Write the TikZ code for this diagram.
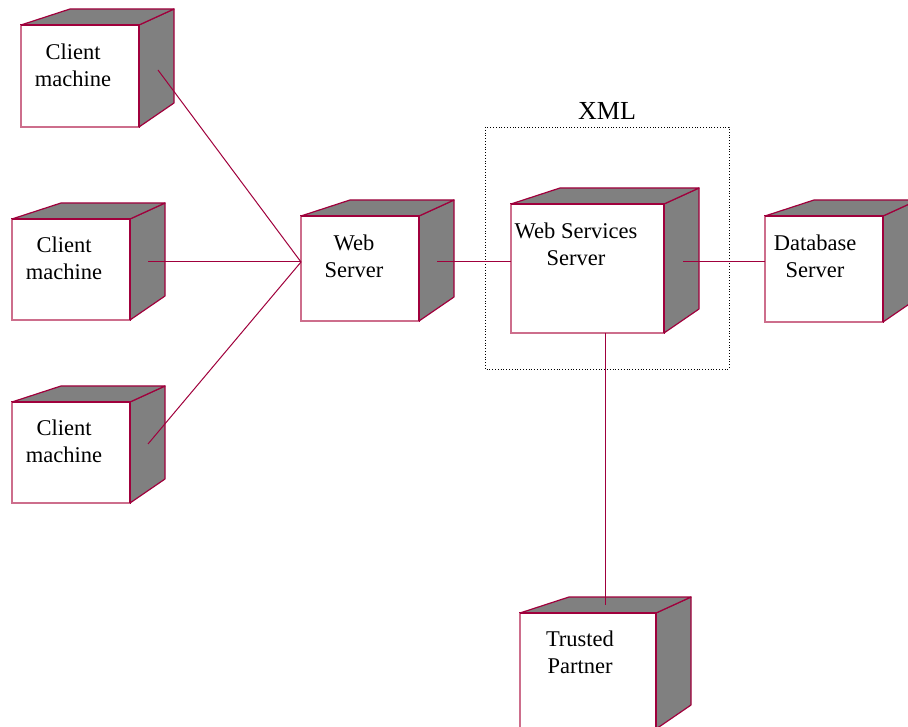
\documentclass[tikz,border=0pt]{standalone}
\usepackage{fontspec}
\setmainfont{Liberation Serif}
\definecolor{crim}{RGB}{160,0,60}
\definecolor{pinkedge}{RGB}{205,110,140}
\definecolor{boxgray}{RGB}{128,128,128}
\tikzset{
  side/.style={fill=boxgray, draw=crim, line width=1.2pt, line join=round},
  face/.style={draw=crim, fill=white, line width=1.2pt, inner sep=0pt, outer sep=0pt},
  litedge/.style={draw=pinkedge, line width=1.4pt},
  lbl/.style={align=center, font=\fontsize{22.5}{27}\selectfont, inner sep=0pt},
  conn/.style={draw=crim, line width=1pt},
}
\newcommand\cubebox[5]{%
  \path[side] (#4,#3) -- ({#4+35},{#3-16}) -- ({#4+35},{#5-24}) -- (#4,#5) -- cycle;
  \path[side] (#2,#3) -- ({#2+49},{#3-16}) -- ({#4+35},{#3-16}) -- (#4,#3) -- cycle;
  \node[face, minimum width={(#4-#2)*1pt}, minimum height={(#5-#3)*1pt}] (#1) at ({(#2+#4)/2},{(#3+#5)/2}) {};
  \draw[litedge] (#1.north west) -- (#1.south west) -- (#1.south east);
  \draw[crim, line width=1.2pt] (#1.north west) -- (#1.north east) -- (#1.south east);
}
\begin{document}
\begin{tikzpicture}[x=1pt, y=-1pt]
\useasboundingbox (0,0) rectangle (908,727);
\clip (0,0) rectangle (908,727);
\fill[white] (0,0) rectangle (908,727);

% XML frame
\draw[black, dotted, line width=0.8pt] (485,127) rectangle (729,369);
\node[font=\fontsize{26}{30}\selectfont, inner sep=0pt] (xml) at (607,111) {XML};

\cubebox{cm1}{21}{25}{139}{127}
\cubebox{cm2}{12}{219}{130}{320}
\cubebox{cm3}{12}{402}{130}{503}
\cubebox{web}{301}{216}{419}{321}
\cubebox{wss}{511}{204}{664}{333}
\cubebox{db}{765}{216}{883}{322}
\cubebox{tp}{520}{613}{656}{729}

\node[lbl] (cm1t) at (73,65) {Client\\machine};
\node[lbl] (cm2t) at (64,258) {Client\\machine};
\node[lbl] (cm3t) at (64,441) {Client\\machine};
\node[lbl] (webt) at (354,256) {Web\\Server};
\node[lbl] (wsst) at (576,244) {Web Services\\Server};
\node[lbl] (dbt) at (815,256) {Database\\Server};
\node[lbl] (tpt) at (580,652) {Trusted\\Partner};

% ports
\coordinate (p1) at (158,70);
\coordinate (p2) at (148,262);
\coordinate (p3) at (148,444);
\coordinate (webin) at (301,262);
\coordinate (webout) at (437,262);
\coordinate (wssin) at (511,262);
\coordinate (wssout) at (683,262);
\coordinate (dbin) at (765,262);
\coordinate (wssdown) at (605,333);
\coordinate (tpin) at (605,605);

\draw[conn] (p1) -- (webin);
\draw[conn] (p2) -- (webin);
\draw[conn] (p3) -- (webin);
\draw[conn] (webout) -- (wssin);
\draw[conn] (wssout) -- (dbin);
\draw[conn] (wssdown) -- (tpin);
\end{tikzpicture}
\end{document}
